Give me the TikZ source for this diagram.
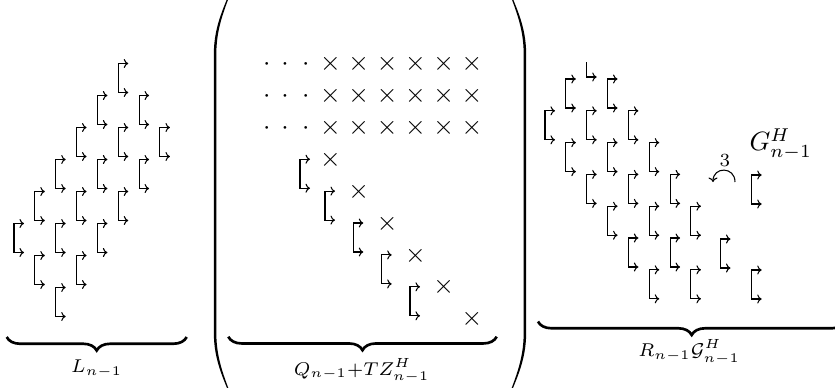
\documentclass[tikz,border=0pt]{standalone}
\usepackage{amsmath,amssymb}
\usetikzlibrary{decorations.pathreplacing,arrows.meta}
\tikzset{
  symline/.style={line width=0.4pt},
  tipcm/.tip={Computer Modern Rightarrow[length=1.7pt,width=3.4pt]},
  rotsym/.pic={\draw[symline,tipcm-tipcm] (10,0) -- (0,0) -- (0,29) -- (10,29);},
  halfsym/.pic={\draw[symline,-tipcm] (0,0) -- (0,15) -- (10,15);},
  entry/.style={inner sep=0pt, anchor=base},
  lbl/.style={inner sep=0pt, anchor=base},
  bracestyle/.style={decorate, decoration={brace, amplitude=5.1pt}, line width=1pt},
  parenfill/.style={fill=black},
}
\begin{document}
\begin{tikzpicture}[x=0.3774pt, y=-0.3774pt]
\useasboundingbox (0,0) rectangle (835,387);
\clip (0,0) rectangle (835,387);

% ---------- left group L_{n-1}
\foreach \c/\r [count=\i] in {5/0,4/1,6/1,3/2,5/2,7/2,2/3,4/3,6/3,1/4,3/4,5/4,0/5,2/5,4/5,1/6,3/6,2/7}
  \pic (l\i) at ({14+20.85*\c},{63.5+32*\r}) {rotsym};
\draw[bracestyle] (186.7,337) -- (6.7,337);
\node[lbl] (Llab) at (96.7,372.7) {$\scriptstyle L_{n-1}$};

% ---------- middle group
% parentheses
\fill[parenfill] (227,-1) .. controls (220,16) and (213.8,32) .. (213.8,55) -- (213.8,332)
   .. controls (213.8,355) and (220,371) .. (227,388) -- (228.3,388)
   .. controls (222,371) and (216.3,355) .. (216.3,332) -- (216.3,55)
   .. controls (216.3,32) and (222,16) .. (228.3,-1) -- cycle;
\fill[parenfill] (513,-1) .. controls (520,16) and (526.2,32) .. (526.2,55) -- (526.2,332)
   .. controls (526.2,355) and (520,371) .. (513,388) -- (511.7,388)
   .. controls (518,371) and (523.7,355) .. (523.7,332) -- (523.7,55)
   .. controls (523.7,32) and (518,16) .. (511.7,-1) -- cycle;
% dots and crosses
\foreach \r in {0,1,2}{
  \foreach \dx [count=\j] in {266.7,285,305.7}
    \node[entry] (d\r\j) at (\dx,{64+31.9*\r+6.6}) {$\cdot$};
  \foreach \k in {0,...,5}
    \node[entry] (x\r\k) at ({330.5+28.3*\k},{64+31.9*\r+6.6}) {$\times$};
}
\foreach \r in {3,...,8}
  \node[entry] (x\r) at ({330.5+28.3*(\r-3)},{64+31.9*\r+6.6}) {$\times$};
\foreach \sx/\r in {300/3,325/4,353.3/5,381.7/6,410/7}
  \pic (m\r) at (\sx,{64+31.9*\r-0.5}) {rotsym};
\draw[bracestyle] (496.7,336.7) -- (228.3,336.7);
\node[lbl] (Qlab) at (361.7,375) {$\scriptstyle Q_{n-1}+TZ^H_{n-1}$};

% ---------- right group
\pic (rh) at (586.7,62) {halfsym};
\foreach \c/\r [count=\i] in {1/1,3/1,0/2,2/2,4/2,1/3,3/3,5/3,2/4,4/4,6/4,3/5,5/5,7/5,4/6,6/6,5/7,7/7}
  \pic (r\i) at ({545+20.85*\c},{79+31.8*(\r-1)}) {rotsym};
\pic (ra) at (751.7,175) {rotsym};
\pic (rb) at (720.5,239) {rotsym};
\pic (rc) at (751.7,270) {rotsym};
\node[lbl, anchor=base west] (Glab) at (749,150.7) {$G^H_{n-1}$};
\node[lbl] (three) at (725,166.7) {$\scriptstyle 3$};
\draw[symline,-tipcm] (735,182) .. controls (735,166.3) and (713,166.3) .. (713,182);
\draw[bracestyle] (845.4,321.5) -- (538,321.5);
\node[lbl] (Rlab) at (689.2,356.7) {$\scriptstyle R_{n-1}\mathcal{G}^H_{n-1}$};
\end{tikzpicture}
\end{document}
